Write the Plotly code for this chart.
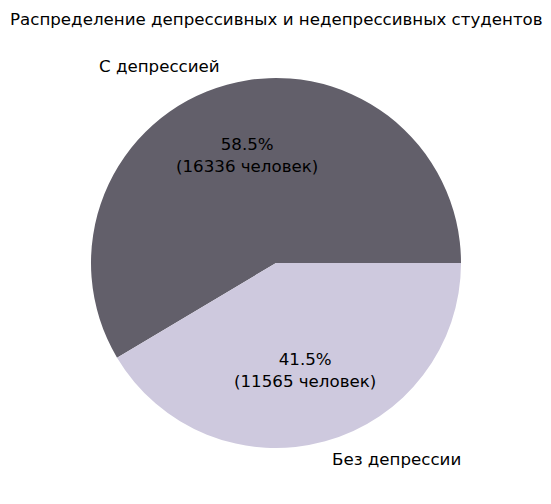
import math
import plotly.graph_objects as go

labels = ["С депрессией", "Без депрессии"]
counts = [16336, 11565]
colors = ["#625f6a", "#cec9de"]
title = "Распределение депрессивных и недепрессивных студентов"

W, H = 551, 504
cx, cy, R = 276, 263, 185  # pie centre & radius in pixels

total = sum(counts)
first_frac = counts[0] / total
# counterclockwise from 3 o'clock (matplotlib default); plotly's rotation marks the
# counterclockwise end of the first slice in ccw mode, measured clockwise from 12.
rot = 90 - 360 * first_frac

fig = go.Figure()
fig.add_trace(go.Pie(
    labels=labels, values=counts, sort=False, direction="counterclockwise",
    rotation=rot, marker=dict(colors=colors, line=dict(width=0)),
    textinfo="none", hoverinfo="label+value+percent", showlegend=False,
    domain=dict(x=[(cx - R) / W, (cx + R) / W], y=[1 - (cy + R) / H, 1 - (cy - R) / H]),
))

font = dict(family="DejaVu Sans", size=16.67, color="black")
start = 0.0
for lab, c in zip(labels, counts):
    frac = c / total
    mid = math.radians((start + frac / 2) * 360)
    start += frac
    px = cx + 0.6 * R * math.cos(mid)
    py = cy - 0.6 * R * math.sin(mid)
    fig.add_annotation(x=px / W, y=1 - py / H, xref="paper", yref="paper",
                       text=f"{frac*100:.1f}%<br>({c} человек)", showarrow=False,
                       xanchor="center", yanchor="middle", font=font, align="center")
    lx = cx + 1.1 * R * math.cos(mid)
    ly = cy - 1.1 * R * math.sin(mid)
    fig.add_annotation(x=lx / W, y=1 - ly / H, xref="paper", yref="paper",
                       text=lab, showarrow=False,
                       xanchor="right" if math.cos(mid) < 0 else "left",
                       yanchor="middle", font=font)

fig.add_annotation(x=276 / W, y=1 - 20 / H, xref="paper", yref="paper", text=title,
                   showarrow=False, xanchor="center", yanchor="middle", font=font)

fig.update_layout(width=W, height=H, margin=dict(l=0, r=0, t=0, b=0),
                  paper_bgcolor="white", plot_bgcolor="white")
fig.write_html("out.html", config={"displayModeBar": False},
               post_script="document.body.style.margin='0';")
